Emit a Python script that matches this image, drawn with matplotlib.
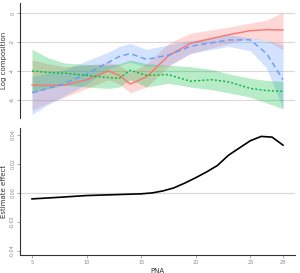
import numpy as np
import matplotlib
matplotlib.use("Agg")
import matplotlib.pyplot as plt

# composition curves (top panel)
pna = [5, 6.5, 8, 10, 12, 13, 14, 15.5, 17.5, 19.5, 21.5, 23, 25, 26.5, 28]

red = [-4.97, -5.0, -4.97, -4.6, -4.0, -4.3, -4.9, -4.4, -2.95, -2.1, -1.75, -1.5, -1.22, -1.15, -1.17]
red_hi = [-3.24, -3.5, -3.7, -3.6, -3.4, -3.6, -4.1, -3.5, -2.1, -1.4, -1.15, -0.97, -0.7, -0.5, 0.07]
red_lo = [-6.7, -6.2, -5.8, -5.2, -4.6, -4.9, -5.5, -5.1, -3.7, -2.8, -2.4, -2.1, -1.75, -1.9, -2.55]

blue = [-5.5, -5.2, -4.85, -4.2, -3.4, -3.0, -2.8, -3.2, -2.9, -2.3, -2.05, -1.86, -1.85, -2.8, -4.6]
blue_hi = [-4.4, -4.1, -3.9, -3.3, -2.7, -2.3, -2.1, -2.5, -2.2, -1.9, -1.7, -1.5, -1.7, -1.9, -2.2]
blue_lo = [-7.0, -6.3, -5.7, -4.9, -3.9, -3.6, -3.4, -3.7, -3.6, -2.8, -2.5, -2.3, -2.6, -3.8, -6.6]

green = [-4.0, -4.1, -4.15, -4.3, -4.45, -4.5, -3.95, -4.3, -4.25, -4.7, -4.6, -4.75, -5.2, -5.35, -5.4]
green_hi = [-2.5, -3.1, -3.45, -3.55, -3.6, -3.5, -3.24, -3.5, -3.6, -3.7, -3.9, -4.2, -4.5, -4.65, -4.7]
green_lo = [-5.5, -5.2, -4.97, -5.1, -5.2, -5.1, -4.6, -5.1, -4.85, -5.1, -5.3, -5.5, -5.8, -6.2, -6.6]

# estimate effect (bottom panel)
pna_e = [5, 7.5, 10, 12.5, 15, 16, 17, 18, 19, 20, 21, 22, 23, 24, 25, 26, 27, 28]
effect = [-0.0041, -0.003, -0.0018, -0.0012, -0.0006, 0.0, 0.0014, 0.0035, 0.0068,
          0.0105, 0.0145, 0.019, 0.026, 0.031, 0.036, 0.039, 0.0385, 0.033]

xticks = [5, 10, 15, 20, 25, 28]
top_ticks = [0, -2, -4, -6]
bot_ticks = [0.04, 0.02, 0.00, -0.02, -0.04]

fig = plt.figure(figsize=(3.0, 2.73), dpi=100)
ax1 = fig.add_axes([20/300, 1 - 118/273, 275/300, 115/273])
ax2 = fig.add_axes([20/300, 18/273, 275/300, 127/273])

tick_col = "#888888"
grid_col = "#d9d9d9"

for col, m, lo, hi, ls in [("#F8766D", red, red_lo, red_hi, "-"),
                           ("#619CFF", blue, blue_lo, blue_hi, (0, (4, 2.5))),
                           ("#00BA38", green, green_lo, green_hi, (0, (1.5, 1.5)))]:
    ax1.fill_between(pna, lo, hi, color=col, alpha=0.28, linewidth=0)
    ax1.plot(pna, m, color=col, lw=1.0, ls=ls)

ax1.set_xlim(3.9, 29.1)
ax1.set_ylim(-7.24, 0.69)
ax1.set_yticks(top_ticks)
ax1.set_yticklabels([str(t) for t in top_ticks], rotation=90, va="center")
for t in top_ticks:
    ax1.axhline(t, color=grid_col, lw=0.8, zorder=0)
ax1.set_xticks([])
for s in ["top", "right", "bottom"]:
    ax1.spines[s].set_visible(False)
ax1.set_ylabel("Log composition", fontsize=5, color="#333333", labelpad=2)

ax2.axhline(0, color=grid_col, lw=0.9, zorder=0)
ax2.plot(pna_e, effect, color="black", lw=1.2)
ax2.set_xlim(3.9, 29.1)
ax2.set_ylim(-0.0428, 0.0448)
ax2.set_yticks(bot_ticks)
ax2.set_yticklabels(["%.2f" % t for t in bot_ticks], rotation=90, va="center")
ax2.set_xticks(xticks)
for s in ["top", "right"]:
    ax2.spines[s].set_visible(False)
ax2.set_ylabel("Estimate effect", fontsize=5, color="#333333", labelpad=2)
ax2.set_xlabel("PNA", fontsize=5, color="#333333", labelpad=2)

for ax in (ax1, ax2):
    ax.tick_params(labelsize=3.5, colors=tick_col, length=2, width=0.5, pad=1.5)
    for s in ax.spines.values():
        s.set_color("#333333")
        s.set_linewidth(0.8)

fig.savefig("out.png", dpi=100)
